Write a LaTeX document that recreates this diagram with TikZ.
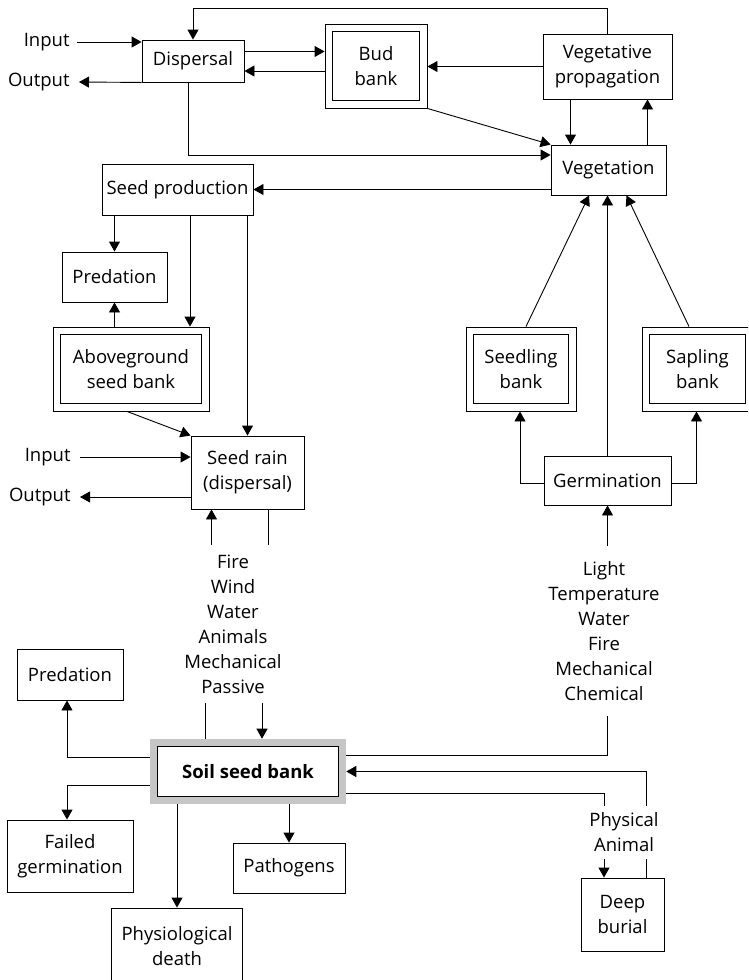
\documentclass[tikz,border=0pt]{standalone}
\usepackage{fontspec}
\setmainfont{Open Sans}
\usepackage{tikz}
\usetikzlibrary{arrows.meta,positioning}

\begin{document}
\begin{tikzpicture}[
    x=1pt, y=-1pt,
    line width=0.9pt,
    every node/.style={font=\fontsize{18.5}{25}\selectfont},
    box/.style={draw, align=center, inner sep=0pt},
    bank/.style={box, fill=white, minimum height=84pt},
    soilbank/.style={box, double=gray!45, double distance=6.5pt, fill=white, outer sep=4pt},
    lbl/.style={align=center, inner xsep=0pt},
    arr/.style={-{Triangle[length=10pt, width=11pt]}},
]
    \useasboundingbox (0,0) rectangle (748,980);
    \clip (0,0) rectangle (748,980);

    % Top row
    \node[box, minimum width=102pt, minimum height=42pt] (disp) at (193,61) {Dispersal};
    \node[bank, minimum width=102pt] (budbank) at (376,66) {Bud\\bank};
    \node[box, minimum width=129pt, minimum height=65pt] (vegprop) at (607.5,66.5) {Vegetative\\propagation};
    \node[box, minimum width=115pt, minimum height=50pt] (veg) at (608.5,170) {Vegetation};
    \node[anchor=east, inner xsep=7pt] (in1) at (77,42) {Input};
    \node[anchor=east, inner xsep=9pt] (out1) at (79,82) {Output};

    % Left column
    \node[box, minimum width=151pt, minimum height=51pt] (seedprod) at (177.5,189.5) {Seed production};
    \node[box, minimum width=105pt, minimum height=50pt] (pred1) at (114.5,277) {Predation};
    \node[bank, minimum width=156pt] (aboveground) at (131,369) {Aboveground\\seed bank};
    \node[box, minimum width=113pt, minimum height=73pt] (seedrain) at (247.5,472.5) {Seed rain\\(dispersal)};
    \node[anchor=east, inner xsep=9pt] (in2) at (80,457) {Input};
    \node[anchor=east, inner xsep=9pt] (out2) at (80,497) {Output};
    \node[lbl, inner ysep=9pt] (agents) at (233,624) {Fire\\Wind\\Water\\Animals\\Mechanical\\Passive};

    % Right column
    \node[bank, minimum width=110pt] (seedling) at (521,369) {Seedling\\bank};
    \node[bank, minimum width=111pt] (sapling) at (697.5,369) {Sapling\\bank};
    \node[box, minimum width=127pt, minimum height=49pt] (germ) at (607.5,480.5) {Germination};
    \node[lbl, inner ysep=15pt] (factors) at (604,631) {Light\\Temperature\\Water\\Fire\\Mechanical\\Chemical};

    % inner frame of the bank boxes
    \foreach \bk in {budbank, aboveground, seedling, sapling}
        \draw ([xshift=8pt, yshift=-8pt]\bk.north west) rectangle ([xshift=-8pt, yshift=8pt]\bk.south east);

    % Soil seed bank and losses
    \node[soilbank, minimum width=188.6pt, minimum height=57.6pt] (soil) at (248,771.5) {\bfseries Soil seed bank};
    \node[box, minimum width=106pt, minimum height=51pt] (pred2) at (70,674.5) {Predation};
    \node[box, minimum width=126pt, minimum height=72pt] (failed) at (70,856) {Failed\\germination};
    \node[box, minimum width=131pt, minimum height=76pt] (physdeath) at (177,946) {Physiological\\death};
    \node[box, minimum width=112pt, minimum height=50pt] (pathogens) at (289,868) {Pathogens};
    \node[box, minimum width=83pt, minimum height=73pt] (deepburial) at (622.5,914.5) {Deep\\burial};
    \node[lbl, inner ysep=6.5pt] (burialtext) at (624,832.4) {Physical\\Animal};

    % Top connectors
    \draw[arr] (in1.east) -- (in1.east -| disp.west);
    \draw[arr] (disp.south west) -- (out1.east);
    \draw[arr] (vegprop.north) -- ++(0,-25) -| (disp.north);
    \draw[arr] ([yshift=9.5pt]disp.east) -- ([yshift=9.5pt]disp.east -| budbank.west);
    \draw[arr] ([yshift=-10pt]disp.east -| budbank.west) -- ([yshift=-10pt]disp.east);
    \draw[arr] (vegprop.west) -- (vegprop.west -| budbank.east);
    \draw[arr] ([xshift=-37pt]vegprop.south) -- ([xshift=-37pt]vegprop.south |- veg.north);
    \draw[arr] ([xshift=39pt]veg.north) -- ([xshift=39pt]veg.north |- vegprop.south);
    \draw[arr] (budbank.south east) -- (veg.north west);
    \draw[arr] ([xshift=-5pt]disp.south) |- ([yshift=15pt]veg.west);
    \draw[arr] (veg.west |- seedprod.east) -- (seedprod.east);

    % Left column connectors
    \draw[arr] (seedprod.south -| pred1.north) -- (pred1.north);
    \draw[arr] ([xshift=12.5pt]seedprod.south) -- ([xshift=12.5pt]seedprod.south |- aboveground.north);
    \draw[arr] (seedprod.south -| seedrain.north) -- (seedrain.north);
    \draw[arr] (aboveground.north -| pred1.south) -- (pred1.south);
    \draw[arr] ([xshift=-4pt]aboveground.south) -- (seedrain.north west);
    \draw[arr] (in2.east) -- (in2.east -| seedrain.west);
    \draw[arr] (seedrain.west |- out2.east) -- (out2.east);
    \draw[arr] ([xshift=-36pt]seedrain.south |- agents.north) -- ([xshift=-36pt]seedrain.south);
    \draw ([xshift=21pt]seedrain.south) -- ([xshift=21pt]seedrain.south |- agents.north);
    \draw ([xshift=-43pt]soil.north) -- ([xshift=-43pt]soil.north |- agents.south);
    \draw[arr] ([xshift=14pt]soil.north |- agents.south) -- ([xshift=14pt]soil.north);

    % Right column connectors
    \draw[arr] (germ.north) -- (germ.north |- veg.south);
    \draw[arr] ([xshift=5pt]seedling.north) -- ([xshift=-19.5pt]veg.south);
    \draw[arr] ([xshift=-8.5pt]sapling.north) -- ([xshift=18pt]veg.south);
    \draw[arr] ([yshift=-3pt]germ.west) -| ([xshift=-1pt]seedling.south);
    \draw[arr] ([yshift=-3pt]germ.east) -| ([xshift=-1pt]sapling.south);
    \draw ([yshift=16pt]soil.east) -| (germ.south |- factors.south);
    \draw[arr] (germ.south |- factors.north) -- (germ.south);

    % Losses from the soil seed bank
    \draw[arr] ([yshift=14pt]soil.west) -| ([xshift=-3pt]pred2.south);
    \draw[arr] ([yshift=-14pt]soil.west) -| ([xshift=-3pt]failed.north);
    \draw[arr] (soil.south -| physdeath.north) -- (physdeath.north);
    \draw[arr] (soil.south -| pathogens.north) -- (pathogens.north);

    % Deep burial
    \draw ([yshift=-22pt]soil.east) -| ([xshift=-18.5pt]deepburial.north |- burialtext.north);
    \draw[arr] ([xshift=-18.5pt]deepburial.north |- burialtext.south) -- ([xshift=-18.5pt]deepburial.north);
    \draw ([xshift=24pt]deepburial.north) -- ([xshift=24pt]deepburial.north |- burialtext.south);
    \draw[arr] ([xshift=24pt]deepburial.north |- burialtext.north) |- (soil.east);
\end{tikzpicture}
\end{document}
